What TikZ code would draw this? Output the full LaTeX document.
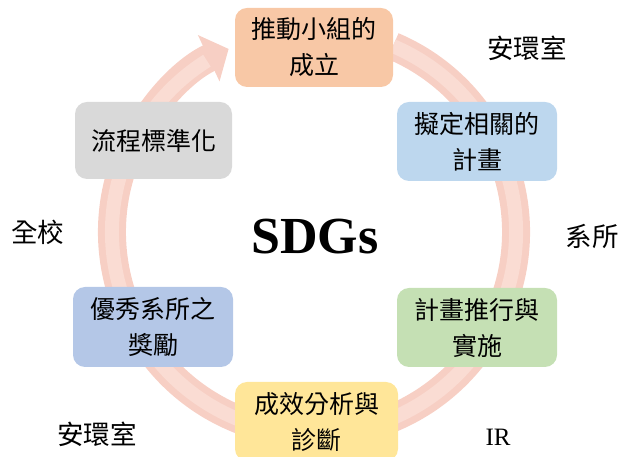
\documentclass[tikz,border=0pt]{standalone}
\usepackage{fontspec}
\setmainfont{Liberation Serif}
\newfontfamily\cjk{Noto Sans CJK TC}
\usetikzlibrary{arrows.meta}
\definecolor{cOrange}{HTML}{F8C8A6}
\definecolor{cBlueL}{HTML}{BDD7EE}
\definecolor{cGrey}{HTML}{D9D9D9}
\definecolor{cGreen}{HTML}{C5E0B4}
\definecolor{cBlueP}{HTML}{B4C7E7}
\definecolor{cYellow}{HTML}{FFE699}
\definecolor{cBand}{HTML}{F7CFC4}
\definecolor{cBandIn}{HTML}{FADCD3}
\begin{document}
\begin{tikzpicture}[x=1pt,y=1pt,
  box/.style={rounded corners=12pt, minimum width=158pt, minimum height=79pt,
    align=center, inner sep=0pt, font=\cjk\fontsize{25}{36}\selectfont},
  lab/.style={font=\cjk\fontsize{26.5}{30}\selectfont},
  band/.style={draw=cBand, line width=28pt},
  bandin/.style={draw=cBandIn, line width=14pt}]
\useasboundingbox (0,0) rectangle (621,457);
\coordinate (c) at (314,225);
\draw[band, -{Triangle[width=50pt,length=22pt,fill=cBand]}] ([shift={(67:202)}]c) arc (67:-245:202);
\draw[bandin] ([shift={(67:202)}]c) arc (67:-238:202);
% boxes
\node[box, fill=cOrange] (top) at (314,409.5) {推動小組的\\成立};
\node[box, fill=cBlueL, minimum width=160pt] (ru) at (477,315.5) {擬定相關的\\計畫};
\node[box, fill=cGreen, minimum width=160pt] (rl) at (477,129.5) {計畫推行與\\實施};
\node[box, fill=cYellow, minimum width=163pt] (bot) at (316.5,35.5) {成效分析與\\診斷};
\node[box, fill=cBlueP, minimum width=160pt, minimum height=80pt] (ll) at (153,130) {優秀系所之\\獎勵};
\node[box, fill=cGrey, minimum width=157pt, minimum height=77pt] (lu) at (153.5,316.5) {流程標準化};
% labels
\node[lab] (l1) at (527,409) {安環室};
\node[lab] (l2) at (592,221) {系所};
\node[font=\fontsize{25}{28}\selectfont] (l3) at (498,20) {IR};
\node[lab] (l4) at (97,23) {安環室};
\node[lab] (l5) at (37.5,225) {全校};
\node[font=\bfseries\fontsize{52}{60}\selectfont] (sdg) at (315,220) {SDGs};
\end{tikzpicture}
\end{document}
